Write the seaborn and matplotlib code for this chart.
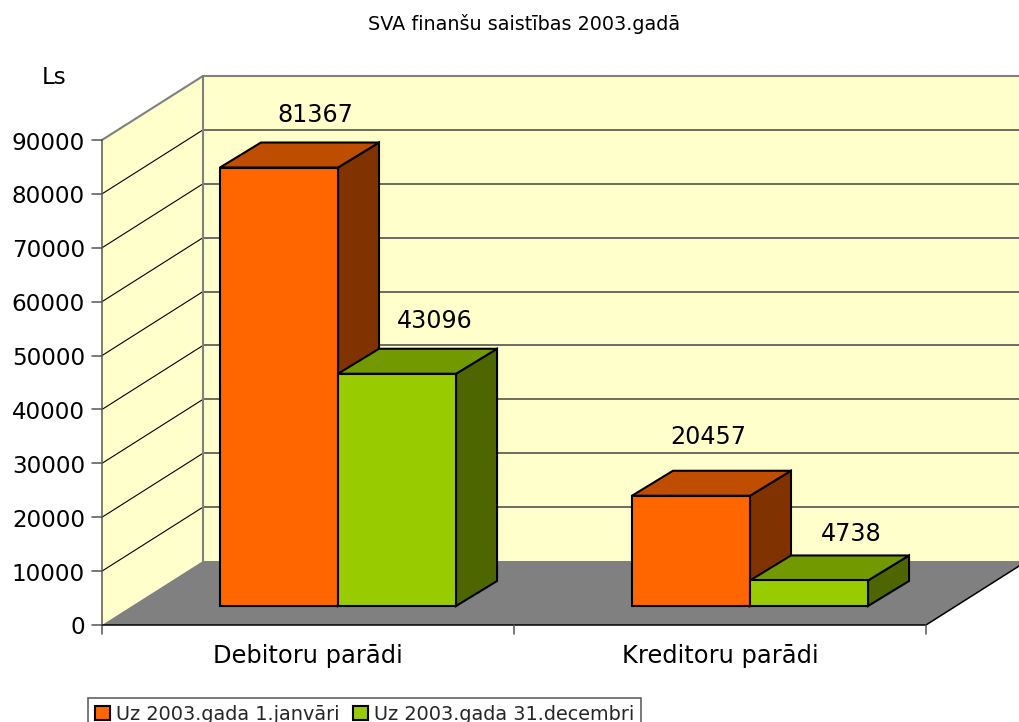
import matplotlib
matplotlib.use("Agg")
import matplotlib.pyplot as plt
from matplotlib.patches import Polygon
import pandas as pd
import seaborn as sns

# data
categories = ['Debitoru parādi', 'Kreditoru parādi']
series_names = ['Uz 2003.gada 1.janvāri', 'Uz 2003.gada 31.decembri']
values_start = [81367, 20457]
values_end = [43096, 4738]
y_ticks = [0, 10000, 20000, 30000, 40000, 50000, 60000, 70000, 80000, 90000]
title = 'SVA finanšu saistības 2003.gadā'
unit = 'Ls'

df = pd.DataFrame({
    'cat': categories * 2,
    'series': [series_names[0]] * 2 + [series_names[1]] * 2,
    'val': values_start + values_end,
})

W, H = 1019, 722
sns.set_theme(style="white")
plt.rcParams['font.family'] = ['DejaVu Sans']
fig = plt.figure(figsize=(W / 100, H / 100), dpi=100, facecolor='white')

# 1. the box: walls and floor, drawn in pixel space
bg = fig.add_axes([0, 0, 1, 1])
bg.set_xlim(0, W)
bg.set_ylim(H, 0)
bg.axis('off')

x0, x1 = 102, 926      # front edge of the floor
y0, y_top = 625, 140   # value 0 and value 90000 on the front axis
ddx, ddy = 101, 64     # depth of the box
wall = '#FFFFCC'
edge = '#808080'


def ypx(v):
    return y0 - v * (y0 - y_top) / y_ticks[-1]


bg.add_patch(Polygon([(x0, y_top), (x0 + ddx, y_top - ddy), (x0 + ddx, y0 - ddy), (x0, y0)],
                     fc=wall, ec='none'))
bg.add_patch(Polygon([(x0 + ddx, y_top - ddy), (W + 5, y_top - ddy), (W + 5, y0 - ddy), (x0 + ddx, y0 - ddy)],
                     fc=wall, ec='none'))
bg.add_patch(Polygon([(x0, y0), (x0 + ddx, y0 - ddy), (x1 + ddx, y0 - ddy), (x1, y0)],
                     fc='#808080', ec='none'))

for t in y_ticks[1:-1]:
    y = ypx(t)
    bg.plot([x0, x0 + ddx], [y, y - ddy], color='black', lw=0.8)
    bg.plot([x0 + ddx, W + 5], [y - ddy, y - ddy], color='#444444', lw=1.1)

# outlines of the box
bg.plot([x0, x0 + ddx, W + 5], [y_top, y_top - ddy, y_top - ddy], color=edge, lw=1.5)
bg.plot([x0 + ddx, x0 + ddx], [y_top - ddy, y0 - ddy], color=edge, lw=1.5)
bg.plot([x0, x0], [y_top, y0 + 9], color='#555555', lw=1.1)
bg.plot([x0, x1, x1 + ddx], [y0, y0, y0 - ddy], color='black', lw=1.1)

# ticks and labels
for t in y_ticks:
    bg.plot([x0 - 10, x0], [ypx(t), ypx(t)], color='#555555', lw=1.1)
    bg.text(85, ypx(t) + 3, str(t), ha='right', va='center', fontsize=16.6, color='black')
for i, c in enumerate(categories):
    left = x0 + (x1 - x0) * i / len(categories)
    right = x0 + (x1 - x0) * (i + 1) / len(categories)
    bg.plot([right, right], [y0, y0 + 9], color='#555555', lw=1.1)
    bg.text((left + right) / 2, 656, c, ha='center', va='center', fontsize=17.4, color='black')

bg.text(54, 77, unit, ha='center', va='center', fontsize=16.6, color='black')
bg.text(524, 24, title, ha='center', va='center', fontsize=13.8, color='black')

# 2. bars: front faces come from seaborn, the axes is slid into the box
ax = fig.add_axes([132 / W, (H - 606) / H, (x1 - x0) / W, (y0 - y_top) / H])
ax.patch.set_alpha(0)
sns.barplot(data=df, x='cat', y='val', hue='series', ax=ax, width=0.573, gap=0,
            palette=['#FF6600', '#99CC00'], saturation=1, edgecolor='black', linewidth=1.5)
ax.set_xlim(-0.5, 1.5)
ax.set_ylim(y_ticks[0], y_ticks[-1])
ax.axis('off')

# 3. the side and top faces, worked out from the seaborn bars
depth_x = 41 * len(categories) / (x1 - x0)
depth_y = 25 * y_ticks[-1] / (y0 - y_top)
bars = [p for p in ax.patches if p.get_height() > 0]
for n, bar in enumerate(bars):
    bar.set_zorder(10)
    bar.set_clip_on(False)
    r, g, b, _ = bar.get_facecolor()
    x, w, h = bar.get_x(), bar.get_width(), bar.get_height()
    side = [(x + w, 0), (x + w + depth_x, depth_y), (x + w + depth_x, h + depth_y), (x + w, h)]
    top = [(x, h), (x + depth_x, h + depth_y), (x + w + depth_x, h + depth_y), (x + w, h)]
    ax.add_patch(Polygon(side, fc=(r * 0.5, g * 0.5, b * 0.5), ec='black', lw=1.5,
                         clip_on=False, zorder=2 + n))
    ax.add_patch(Polygon(top, fc=(r * 0.75, g * 0.75, b * 0.75), ec='black', lw=1.5,
                         clip_on=False, zorder=2 + n))

# 4. value labels, placed by hand as the original has them
offsets = [(36, 53), (17, 59), (38, 53), (42, 46)]
for bar, (ox, oy) in zip(bars, offsets):
    ax.annotate(str(int(bar.get_height())),
                (bar.get_x() + bar.get_width() / 2, bar.get_height()),
                xytext=(ox * 0.72, oy * 0.72), textcoords='offset points',
                ha='center', va='center', fontsize=17.2, color='black',
                annotation_clip=False, zorder=20)

# 5. legend sits low enough to be cut by the figure edge
handles, labels = ax.get_legend_handles_labels()
ax.legend_.remove() if ax.legend_ else None
leg = fig.legend(handles, labels, loc='upper left', ncol=2,
                 bbox_to_anchor=(88 / W, 1 - 698 / H), bbox_transform=fig.transFigure,
                 borderaxespad=0, fancybox=False, framealpha=1, edgecolor='#555555',
                 fontsize=13.9, handlelength=0.8, handleheight=0.67, handletextpad=0.3,
                 columnspacing=0.7, borderpad=0.35)
leg.get_frame().set_linewidth(1.1)

plt.savefig('out.png', dpi=100)
